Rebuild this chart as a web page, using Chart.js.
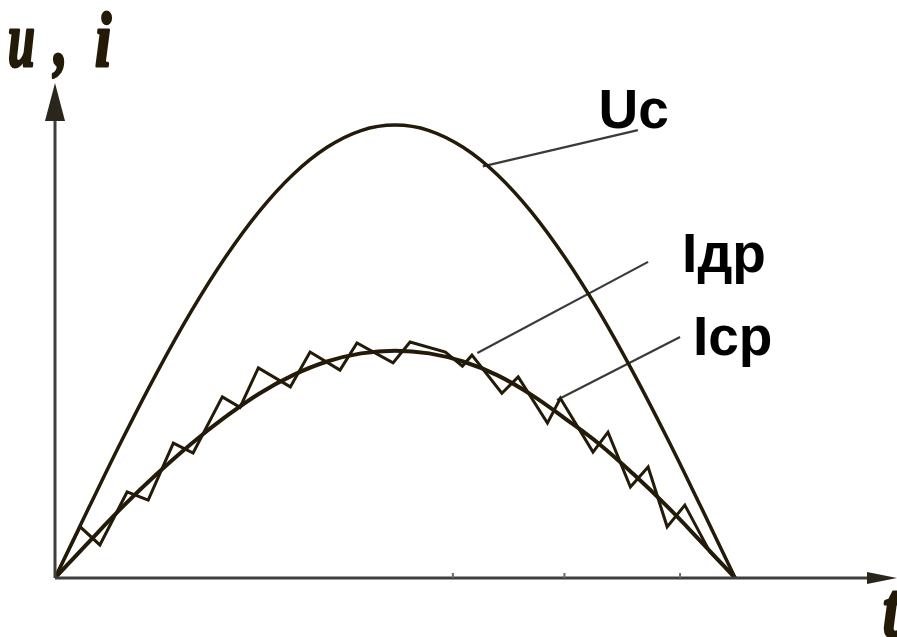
<!DOCTYPE html>
<html>
<head>
<meta charset="utf-8">
<script src="https://cdn.jsdelivr.net/npm/chart.js@4/dist/chart.umd.min.js"></script>
<style>
  html, body { margin: 0; padding: 0; background: #fff; }
  #wrap { width: 897px; height: 637px; }
</style>
</head>
<body>
<div id="wrap"><canvas id="grafico" width="897" height="637"></canvas></div>
<script>
// tiempo (unidades relativas), lectura del dibujo
let tiempos = [0, 0.5, 1, 1.5, 2, 2.5, 3, 3.5, 4, 4.5, 5, 5.5, 6, 6.5, 7, 7.5, 8, 8.5, 9, 9.5, 10];
let uc = [0, 1.56, 3.09, 4.54, 5.88, 7.07, 8.09, 8.91, 9.51, 9.88, 10, 9.88, 9.51, 8.91, 8.09, 7.07, 5.88, 4.54, 3.09, 1.56, 0];
let idr = [0, 0.8, 1.58, 2.3, 2.96, 3.55, 4.07, 4.48, 4.78, 4.96, 5.02, 4.96, 4.78, 4.48, 4.05, 3.52, 2.96, 2.3, 1.58, 0.8, 0];

// corriente Icp (escalonada)
let tIcp = [0, 0.37, 0.66, 1.06, 1.37, 1.74, 2.03, 2.46, 2.72, 2.99, 3.46, 3.75, 4.19, 4.44, 4.97, 5.22, 5.74, 5.99, 6.13, 6.57, 6.81, 7.24, 7.43, 7.91, 8.13, 8.46, 8.72, 9.0, 9.26, 9.63, 10];
let icp = [0, 1.13, 0.73, 1.9, 1.72, 2.98, 2.76, 4.0, 3.77, 4.64, 4.22, 4.99, 4.59, 5.19, 4.75, 5.21, 4.99, 4.68, 4.92, 4.08, 4.44, 3.42, 3.97, 2.78, 3.22, 2.01, 2.45, 1.13, 1.61, 0.57, 0];

// rotulos y lineas de referencia
let rotulos = ['U\u0441', 'I\u0434\u0440', 'I\u0441\u0440'];
let rotuloX = [7.99, 9.22, 9.38];
let rotuloY = [9.93, 6.75, 4.92];
let guiaX = [[8.57, 6.29], [8.72, 6.21], [9.19, 7.38]];
let guiaY = [[9.89, 9.09], [6.98, 4.97], [5.32, 3.93]];

const color = '#231a08';

function puntos(xs, ys) {
    return xs.map((x, k) => ({ x: x, y: ys[k] }));
}

const datasets = [
    { data: puntos(tiempos, uc), borderColor: color, borderWidth: 3.5, tension: 0.4 },
    { data: puntos(tiempos, idr), borderColor: color, borderWidth: 4, tension: 0.4 },
    { data: puntos(tIcp, icp), borderColor: color, borderWidth: 3, tension: 0 }
];
guiaX.forEach((gx, k) => {
    datasets.push({ data: puntos(gx, guiaY[k]), borderColor: '#3a3a36', borderWidth: 2.2, tension: 0 });
});
datasets.forEach(d => { d.showLine = true; d.pointRadius = 0; d.fill = false; });

function textoAngosto(ctx, txt, x, y, esc) {
    ctx.save();
    ctx.translate(x, y);
    ctx.scale(esc, 1);
    ctx.strokeText(txt, 0, 0);
    ctx.fillText(txt, 0, 0);
    ctx.restore();
}

const ejes = {
    id: 'ejes',
    afterDatasetsDraw(chart) {
        const ctx = chart.ctx;
        const sx = chart.scales.x, sy = chart.scales.y;
        const x0 = sx.getPixelForValue(0), y0 = sy.getPixelForValue(0);
        const top = chart.chartArea.top, right = chart.chartArea.right;

        ctx.save();
        ctx.strokeStyle = '#3c3f3c';
        ctx.fillStyle = '#2a261c';
        ctx.lineWidth = 3;
        ctx.beginPath();
        ctx.moveTo(x0, y0); ctx.lineTo(x0, top + 20);
        ctx.moveTo(x0, y0); ctx.lineTo(right - 10, y0);
        ctx.stroke();

        // flechas
        ctx.beginPath();
        ctx.moveTo(x0, top); ctx.lineTo(x0 - 10, top + 38); ctx.lineTo(x0 + 10, top + 38);
        ctx.closePath(); ctx.fill();
        ctx.beginPath();
        ctx.moveTo(right + 2, y0); ctx.lineTo(right - 28, y0 - 6); ctx.lineTo(right - 28, y0 + 6);
        ctx.closePath(); ctx.fill();

        // marcas del eje t
        ctx.lineWidth = 2;
        ctx.strokeStyle = '#6a6a66';
        [5.85, 7.49, 9.19].forEach(v => {
            const px = sx.getPixelForValue(v);
            ctx.beginPath(); ctx.moveTo(px, y0); ctx.lineTo(px, y0 - 5); ctx.stroke();
        });

        // rotulos de curvas
        ctx.fillStyle = '#000';
        ctx.font = 'bold 55px "Liberation Sans", Arial, sans-serif';
        ctx.textBaseline = 'alphabetic';
        rotulos.forEach((r, k) => {
            ctx.fillText(r, sx.getPixelForValue(rotuloX[k]), sy.getPixelForValue(rotuloY[k]));
        });

        // nombres de ejes
        ctx.fillStyle = color;
        ctx.strokeStyle = color;
        ctx.lineWidth = 3;
        ctx.lineJoin = 'round';
        ctx.font = 'italic bold 78px "Liberation Serif", "DejaVu Serif", serif';
        textoAngosto(ctx, 'u', 8, 66, 0.62);
        textoAngosto(ctx, ',', 54, 66, 0.7);
        textoAngosto(ctx, 'i', 95, 66, 0.75);
        textoAngosto(ctx, 't', 883, 636, 0.75);
        ctx.restore();
    }
};

new Chart(document.querySelector('#grafico'), {
    type: 'scatter',
    data: { datasets: datasets },
    options: {
        responsive: false,
        devicePixelRatio: 1,
        animation: false,
        layout: { padding: { left: 55, right: 2, top: 83, bottom: 59 } },
        plugins: { legend: { display: false }, tooltip: { enabled: false } },
        scales: {
            x: { type: 'linear', min: 0, max: 12.35, display: false },
            y: { type: 'linear', min: 0, max: 10.93, display: false }
        }
    },
    plugins: [ejes]
});
</script>
</body>
</html>
